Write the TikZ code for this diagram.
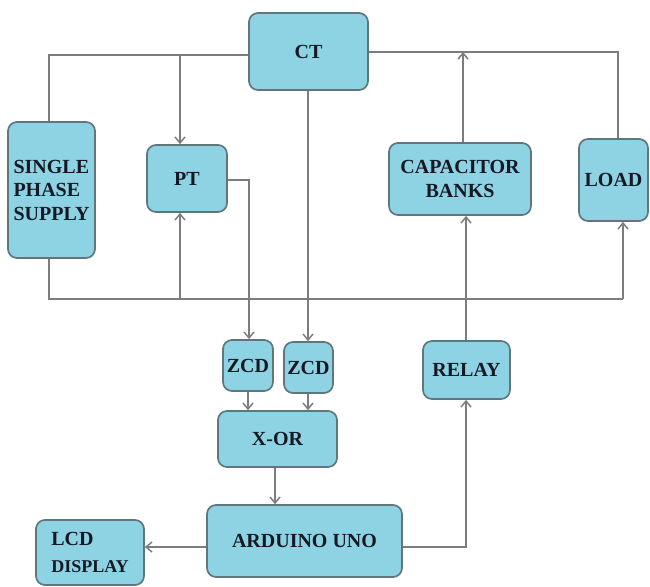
\documentclass[tikz,border=0pt]{standalone}
\usepackage{fontspec}
\setmainfont{Liberation Serif}
\usetikzlibrary{arrows.meta}
\definecolor{boxfill}{RGB}{141,211,228}
\definecolor{boxline}{RGB}{96,118,124}
\definecolor{wirecol}{RGB}{125,125,125}
\definecolor{txt}{RGB}{22,25,35}
\begin{document}
\begin{tikzpicture}[x=1pt,y=-1pt,
  blk/.style={draw=boxline, line width=1.7pt, fill=boxfill, rounded corners=9pt,
    inner sep=0pt, text=txt, font=\fontsize{20}{23.5}\selectfont\bfseries, align=center},
  wire/.style={draw=wirecol, line width=1.5pt},
  arr/.style={wire, -{Straight Barb[length=6pt,width=10pt]}}]
\useasboundingbox (0,0) rectangle (650,586);

% blocks
\node[blk, minimum width=119pt, minimum height=77pt] (ct) at (308.5,51.5) {CT};
\node[blk, minimum width=87pt, minimum height=136pt, align=left] (sup) at (51.5,190) {SINGLE\\PHASE\\SUPPLY};
\node[blk, minimum width=80pt, minimum height=67pt] (pt) at (187,178.5) {PT};
\node[blk, minimum width=142pt, minimum height=72pt] (cap) at (460,179) {CAPACITOR\\BANKS};
\node[blk, minimum width=69pt, minimum height=82pt] (load) at (613.5,180) {LOAD};
\node[blk, minimum width=50pt, minimum height=51pt] (zcda) at (248,365.5) {ZCD};
\node[blk, minimum width=49pt, minimum height=51pt] (zcdb) at (308.5,367.5) {ZCD};
\node[blk, minimum width=119pt, minimum height=56pt] (xor) at (277.5,439) {X-OR};
\node[blk, minimum width=195pt, minimum height=72pt] (ard) at (304.5,541) {ARDUINO UNO};
\node[blk, minimum width=87pt, minimum height=58pt] (relay) at (466.5,370) {RELAY};
\node[blk, minimum width=108pt, minimum height=65pt, align=left] (lcd) at (90,552.5)
  {LCD\\[3pt]{\fontsize{18}{21}\selectfont DISPLAY}};

% junction points
\coordinate (tl) at (49,55);
\coordinate (ptin) at (180,55);
\coordinate (tr) at (618,52);
\coordinate (capout) at (463,52);
\coordinate (bl) at (49,299);
\coordinate (br) at (623,299);
\coordinate (ptb) at (180,299);
\coordinate (ptr) at (249,180);
\coordinate (ly) at (0,547);
\coordinate (rc) at (466,547);
\coordinate (ctx) at (308,0);
\coordinate (xorx) at (275,0);

% connectors
\draw[wire] (sup.north -| tl) -- (tl) -- (tl -| ct.west);
\draw[arr] (ptin) -- (ptin |- pt.north);
\draw[wire] (ct.east |- tr) -- (tr) -- (tr |- load.north);
\draw[arr] (capout |- cap.north) -- (capout);
\draw[wire] (bl |- sup.south) -- (bl) -- (br);
\draw[arr] (br) -- (br |- load.south);
\draw[arr] (ptb) -- (ptb |- pt.south);
\draw[arr] (pt.east |- ptr) -- (ptr) -- (ptr |- zcda.north);
\draw[arr] (ctx |- ct.south) -- (ctx |- zcdb.north);
\draw[arr] (zcda.south) -- (zcda.south |- xor.north);
\draw[arr] (ctx |- zcdb.south) -- (ctx |- xor.north);
\draw[arr] (xorx |- xor.south) -- (xorx |- ard.north);
\draw[arr] (ard.west |- ly) -- (lcd.east |- ly);
\draw[arr] (ard.east |- rc) -- (rc) -- (rc |- relay.south);
\draw[arr] (rc |- relay.north) -- (rc |- cap.south);
\end{tikzpicture}
\end{document}
